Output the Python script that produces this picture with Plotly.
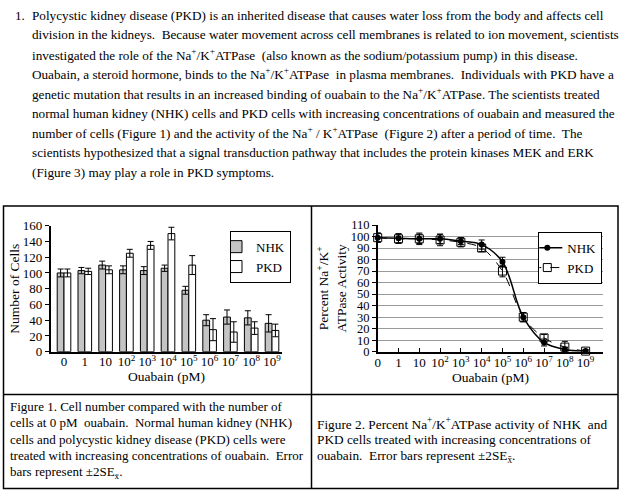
import plotly.graph_objects as go

W, H = 626, 496

# ---------------- data ----------------
categories = ["0", "1", "10", "10<sup>2</sup>", "10<sup>3</sup>", "10<sup>4</sup>",
              "10<sup>5</sup>", "10<sup>6</sup>", "10<sup>7</sup>", "10<sup>8</sup>", "10<sup>9</sup>"]
x_index = list(range(len(categories)))

nhk_cells = [100, 103, 110, 104, 103, 106, 78, 40, 44, 43, 36]
nhk_cells_err = [5, 4, 5, 5, 5, 4, 5, 7, 9, 9, 11]
pkd_cells = [100, 102, 104, 125, 135, 150, 110, 28, 25, 30, 27]
pkd_cells_err = [5, 4, 5, 5, 5, 8, 12, 14, 13, 8, 8]

nhk_activity = [99, 98.5, 98, 98, 96, 93, 78, 30, 8, 2, 0.5]
nhk_activity_err = [4, 4, 5, 4, 3, 4, 4, 4, 3, 2, 1]
pkd_activity = [99, 98, 98, 97, 95, 90, 70, 30, 12, 4, 0.5]
pkd_activity_err = [4, 4, 4, 5, 4, 3, 5, 4, 3, 5, 1]

paragraph = [
    "Polycystic kidney disease (PKD) is an inherited disease that causes water loss from the body and affects cell",
    "division in the kidneys.  Because water movement across cell membranes is related to ion movement, scientists",
    "investigated the role of the Na<sup>+</sup>/K<sup>+</sup>ATPase  (also known as the sodium/potassium pump) in this disease.",
    "Ouabain, a steroid hormone, binds to the Na<sup>+</sup>/K<sup>+</sup>ATPase  in plasma membranes.  Individuals with PKD have a",
    "genetic mutation that results in an increased binding of ouabain to the Na<sup>+</sup>/K<sup>+</sup>ATPase. The scientists treated",
    "normal human kidney (NHK) cells and PKD cells with increasing concentrations of ouabain and measured the",
    "number of cells (Figure 1) and the activity of the Na<sup>+</sup> / K<sup>+</sup>ATPase  (Figure 2) after a period of time.  The",
    "scientists hypothesized that a signal transduction pathway that includes the protein kinases MEK and ERK",
    "(Figure 3) may play a role in PKD symptoms.",
]
caption1 = [
    "Figure 1. Cell number compared with the number of",
    "cells at 0 pM  ouabain.  Normal human kidney (NHK)",
    "cells and polycystic kidney disease (PKD) cells were",
    "treated with increasing concentrations of ouabain.  Error",
    "bars represent \u00b12SE<sub>x\u0304</sub>.",
]
caption2 = [
    "Figure 2. Percent Na<sup>+</sup>/K<sup>+</sup>ATPase activity of NHK  and",
    "PKD cells treated with increasing concentrations of",
    "ouabain.  Error bars represent \u00b12SE<sub>x\u0304</sub>.",
]

FONT = "Liberation Serif"


def px(x):
    return x / W


def py(y):
    return 1 - y / H


fig = go.Figure()

# ---------------- Figure 1: bars ----------------
fig.add_trace(go.Bar(
    x=x_index, y=nhk_cells, name="NHK",
    marker=dict(color="#c4c4c4", line=dict(color="black", width=1)),
    error_y=dict(type="data", array=nhk_cells_err, color="black", thickness=1, width=3),
    xaxis="x", yaxis="y", legend="legend",
))
fig.add_trace(go.Bar(
    x=x_index, y=pkd_cells, name="PKD",
    marker=dict(color="white", line=dict(color="black", width=1)),
    error_y=dict(type="data", array=pkd_cells_err, color="black", thickness=1, width=3),
    xaxis="x", yaxis="y", legend="legend",
))

# ---------------- Figure 2: activity curves ----------------
fig.add_trace(go.Scatter(
    x=x_index, y=nhk_activity, name="NHK", mode="lines+markers",
    line=dict(color="black", width=1.5, shape="spline"),
    marker=dict(symbol="circle", size=6, color="black"),
    error_y=dict(type="data", array=nhk_activity_err, color="black", thickness=1, width=3),
    cliponaxis=False, xaxis="x2", yaxis="y2", legend="legend2",
))
fig.add_trace(go.Scatter(
    x=x_index, y=pkd_activity, name="PKD", mode="lines+markers",
    line=dict(color="black", width=1, dash="dash", shape="spline"),
    marker=dict(symbol="square-open", size=8, color="black", line=dict(width=1)),
    error_y=dict(type="data", array=pkd_activity_err, color="black", thickness=1, width=3),
    cliponaxis=False, xaxis="x2", yaxis="y2", legend="legend2",
))

tickfont = dict(family=FONT, size=13, color="black")
tickfont2 = dict(family=FONT, size=12.5, color="black")
titlefont = dict(family=FONT, size=13.5, color="black")

fig.update_layout(
    width=W, height=H,
    margin=dict(l=0, r=0, t=0, b=0, pad=0, autoexpand=False),
    paper_bgcolor="white", plot_bgcolor="rgba(0,0,0,0)",
    font=dict(family=FONT, size=13, color="black"),
    barmode="group", bargap=0.346, bargroupgap=0,
    xaxis=dict(
        domain=[px(50.7), px(282.4)], range=[-0.64, 10.5],
        tickmode="array", tickvals=x_index, ticktext=categories,
        ticks="", showline=True, linecolor="black", linewidth=1.5,
        showgrid=False, zeroline=False, tickfont=tickfont, automargin=False,
        ticklabelstandoff=-3,
        title=dict(text="Ouabain (pM)", font=titlefont, standoff=0),
        anchor="y",
    ),
    yaxis=dict(
        domain=[py(351.7), py(225.7)], range=[0, 160],
        tickmode="linear", tick0=0, dtick=20,
        ticks="outside", ticklen=4, tickcolor="black", tickwidth=1,
        showline=True, linecolor="black", linewidth=1.5,
        showgrid=False, zeroline=False, tickfont=tickfont, automargin=False,
        title=dict(text="Number of Cells", font=titlefont, standoff=0),
        anchor="x",
    ),
    xaxis2=dict(
        domain=[px(377.7), px(603.3)], range=[0, 10.85],
        tickmode="array", tickvals=x_index, ticktext=categories,
        ticks="inside", ticklen=4, tickcolor="black",
        showline=True, linecolor="black", linewidth=2,
        showgrid=False, zeroline=False, tickfont=tickfont, automargin=False,
        ticklabelstandoff=-2,
        title=dict(text="Ouabain (pM)", font=titlefont, standoff=0),
        anchor="y2",
    ),
    yaxis2=dict(
        domain=[py(351.7), py(225)], range=[0, 110],
        tickmode="linear", tick0=0, dtick=10,
        ticks="outside", ticklen=4, tickcolor="black", tickwidth=1,
        showline=True, linecolor="black", linewidth=1.5,
        showgrid=True, gridcolor="#9a9a9a", gridwidth=1, zeroline=False,
        tickfont=tickfont2, automargin=False,
        title=dict(text="Percent Na<sup>+</sup>/K<sup>+</sup><br>ATPase Activity",
                   font=titlefont, standoff=1),
        anchor="x2",
    ),
    legend=dict(
        x=px(230), y=py(230.7), xanchor="left", yanchor="top",
        bgcolor="white", bordercolor="black", borderwidth=1,
        font=dict(family=FONT, size=13, color="black"),
        itemwidth=30, tracegroupgap=0, indentation=-15,
    ),
    legend2=dict(
        x=px(538.3), y=py(231.7), xanchor="left", yanchor="top",
        bgcolor="white", bordercolor="black", borderwidth=1,
        font=dict(family=FONT, size=13, color="black"),
        itemwidth=30, tracegroupgap=0, indentation=-12,
    ),
    showlegend=True,
)

# ---------------- table frame ----------------
frame = dict(color="black", width=1.5)
fig.add_shape(type="rect", xref="paper", yref="paper",
              x0=px(3.5), x1=px(618), y0=py(488.5), y1=py(206), line=frame)
fig.add_shape(type="line", xref="paper", yref="paper",
              x0=px(311.5), x1=px(311.5), y0=py(488.5), y1=py(206), line=frame)
fig.add_shape(type="line", xref="paper", yref="paper",
              x0=px(3.5), x1=px(618), y0=py(394.5), y1=py(394.5), line=frame)

# ---------------- text ----------------
textfont = dict(family=FONT, size=13.2, color="black")
fig.add_annotation(text="1.", x=px(13), y=py(15), xref="paper", yref="paper",
                   xanchor="left", yanchor="middle", showarrow=False, font=textfont)
for i, line in enumerate(paragraph):
    fig.add_annotation(text=line, x=px(30), y=py(15 + 19.63 * i), xref="paper", yref="paper",
                       xanchor="left", yanchor="middle", showarrow=False, font=textfont, align="left")

capfont1 = dict(family=FONT, size=13, color="black")
capfont2 = dict(family=FONT, size=13.3, color="black")
for i, line in enumerate(caption1):
    fig.add_annotation(text=line, x=px(8), y=py(406 + 16.5 * i), xref="paper", yref="paper",
                       xanchor="left", yanchor="middle", showarrow=False, font=capfont1, align="left")
for i, line in enumerate(caption2):
    fig.add_annotation(text=line, x=px(315), y=py(423 + 16.8 * i), xref="paper", yref="paper",
                       xanchor="left", yanchor="middle", showarrow=False, font=capfont2, align="left")

fig.write_html(
    "out.html",
    config=dict(displayModeBar=False),
    post_script="document.body.style.margin='0';document.body.style.overflow='hidden';",
)
